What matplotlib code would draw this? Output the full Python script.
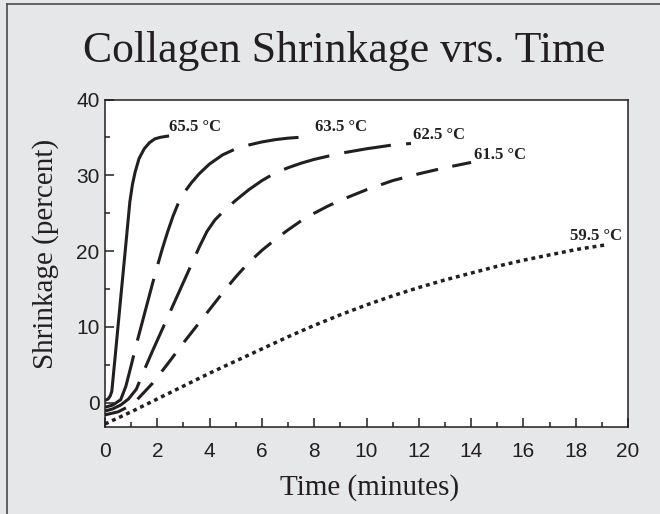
import matplotlib
matplotlib.use("Agg")
import matplotlib.pyplot as plt
from matplotlib import font_manager as fm
from matplotlib.lines import Line2D

names = sorted({f.name for f in fm.fontManager.ttflist})

# ---------------- data ----------------
x655 = [0, 0.12, 0.2, 0.26, 0.4, 0.6, 0.8, 0.95, 1.05, 1.15, 1.3, 1.5, 1.7, 1.9, 2.1, 2.45]
y655 = [0.3, 0.5, 0.9, 1.5, 6.5, 13.8, 21.0, 26.5, 28.8, 30.4, 32.2, 33.5, 34.3, 34.8, 35.0, 35.2]

x635 = [0, 0.3, 0.6, 0.8, 1.0, 1.2, 1.4, 1.6, 1.8, 2.0, 2.2, 2.4, 2.6, 2.8, 3.0, 3.3, 3.6, 4.0, 4.5, 5.0, 5.5, 6.0, 6.5, 7.0, 7.4]
y635 = [-0.6, -0.3, 0.4, 2.2, 4.9, 7.7, 10.3, 12.9, 15.5, 18.0, 20.4, 22.6, 24.6, 26.3, 27.6, 29.0, 30.2, 31.5, 32.7, 33.5, 34.0, 34.4, 34.7, 34.9, 35.0]

x625 = [0, 0.3, 0.6, 0.9, 1.2, 1.5, 1.8, 2.1, 2.4, 2.7, 3.0, 3.3, 3.6, 3.9, 4.2, 4.6, 5.0, 5.5, 6.0, 6.5, 7.0, 7.5, 8.0, 9.0, 10.0, 11.0, 11.7]
y625 = [-1.1, -0.8, -0.3, 0.5, 1.8, 4.3, 6.7, 9.0, 11.3, 13.6, 15.9, 18.2, 20.5, 22.6, 24.1, 25.5, 26.7, 28.1, 29.3, 30.3, 31.0, 31.6, 32.1, 32.9, 33.5, 34.0, 34.2]

x615 = [0, 0.5, 0.9, 1.2, 1.5, 1.8, 2.1, 2.5, 3.0, 3.5, 4.0, 4.5, 5.0, 5.5, 6.0, 6.5, 7.0, 7.5, 8.0, 8.5, 9.0, 10.0, 11.0, 12.0, 13.0, 14.0]
y615 = [-1.6, -1.2, -0.5, 0.3, 1.4, 2.5, 3.8, 5.6, 7.9, 10.1, 12.3, 14.5, 16.6, 18.5, 20.1, 21.5, 22.8, 24.0, 25.0, 25.9, 26.7, 28.1, 29.3, 30.2, 31.0, 31.7]

x595 = [0, 1, 2, 3, 4, 5, 6, 7, 8, 9, 10, 11, 12, 13, 14, 15, 16, 17, 18, 19.1]
y595 = [-2.8, -1.2, 0.5, 2.2, 3.9, 5.5, 7.1, 8.7, 10.2, 11.6, 12.9, 14.1, 15.2, 16.2, 17.1, 18.0, 18.8, 19.5, 20.2, 20.8]

labels = ["65.5 \u00b0C", "63.5 \u00b0C", "62.5 \u00b0C", "61.5 \u00b0C", "59.5 \u00b0C"]
label_x = [2.46, 8.02, 11.77, 14.13, 17.79]
label_y = [35.8, 35.8, 34.8, 32.2, 21.5]

xticks = list(range(0, 21, 2))
yticks = [0, 10, 20, 30, 40]

title = "Collagen Shrinkage vrs. Time"
xlabel = "Time (minutes)"
ylabel = "Shrinkage (percent)"

# ---------------- style ----------------
def pick(cands, default):
    for c in cands:
        if c in names:
            return c
    return default

serif = pick(["Liberation Serif", "DejaVu Serif"], "serif")
sans = pick(["Liberation Sans", "DejaVu Sans"], "sans-serif")

plt.rcParams['lines.scale_dashes'] = False
ink = "#231f20"
bg = "#e6e7e9"

fig = plt.figure(figsize=(6.6, 5.14), dpi=100, facecolor=bg)
ax = fig.add_axes([105/660, 1-427/514, (628-105)/660, (427-99.5)/514])
ax.set_facecolor("white")

lw = 2.2
ax.plot(x655, y655, color=ink, lw=lw, solid_capstyle='butt')
ax.plot(x635, y635, color=ink, lw=lw, dashes=(46, 11), dash_capstyle='butt')
ax.plot(x625, y625, color=ink, lw=lw, dashes=(34, 11), dash_capstyle='butt')
ax.plot(x615, y615, color=ink, lw=lw, dashes=(16, 10.5), dash_capstyle='butt')
ax.plot(x595, y595, color=ink, lw=2.5, dashes=(2.8, 2.8), dash_capstyle='butt')

for t, xx, yy in zip(labels, label_x, label_y):
    ax.text(xx, yy, t, fontfamily=serif, fontweight='bold', fontsize=12,
            color=ink, ha='left', va='baseline')

ax.set_xlim(0, 20)
ax.set_ylim(-3.2, 40)
ax.set_xticks(xticks)
ax.set_yticks(yticks)
ax.set_xticks(range(1, 20, 2), minor=True)
ax.set_yticks([5, 15, 25, 35], minor=True)
ax.tick_params(which='both', direction='in', color=ink, width=1.1,
               top=False, right=False)
ax.tick_params(which='major', length=6.5)
ax.tick_params(which='minor', length=3.8)
ax.tick_params(axis='x', which='major', pad=11)
ax.tick_params(axis='y', which='major', pad=4)
for lab in ax.get_xticklabels() + ax.get_yticklabels():
    lab.set_fontfamily(sans)
    lab.set_fontsize(15)
    lab.set_color(ink)
for s in ax.spines.values():
    s.set_linewidth(1.1)
    s.set_color(ink)

fig.text(370/660, 1-495/514, xlabel, fontfamily=serif, fontsize=21, color=ink,
         ha='center', va='baseline')
fig.text(45.5/660, 1-253.5/514, ylabel, fontfamily=serif, fontsize=21, color=ink,
         ha='center', va='center', rotation=90)
fig.text(344/660, 1-62/514, title, fontfamily=serif, fontsize=31.5, color=ink,
         ha='center', va='baseline')

# frame lines (top and left)
fig.add_artist(Line2D([7/660, 1], [1-4/514, 1-4/514], color="#4a4a4a", lw=1.2,
                      transform=fig.transFigure))
fig.add_artist(Line2D([7/660, 7/660], [0, 1-4/514], color="#4a4a4a", lw=1.2,
                      transform=fig.transFigure))

fig.savefig("out.png", dpi=100, facecolor=bg)
